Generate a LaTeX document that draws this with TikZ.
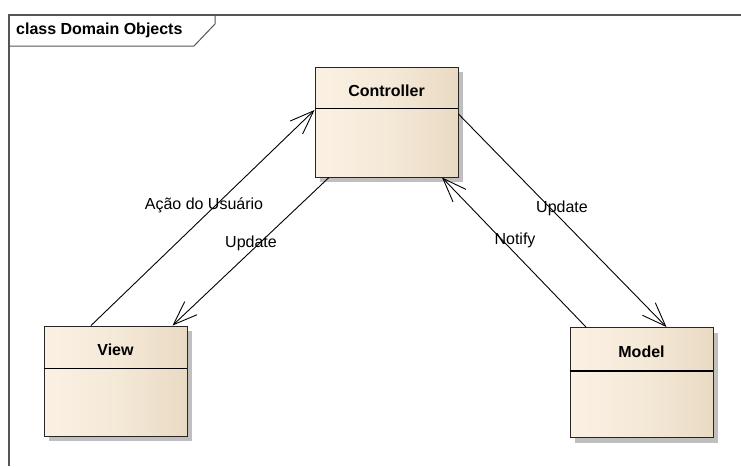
\documentclass[tikz,border=0pt]{standalone}
\usepackage{fontspec}
\setmainfont{Liberation Sans}
\usetikzlibrary{arrows.meta,shadows}

\definecolor{classleft}{RGB}{251,241,227}
\definecolor{classright}{RGB}{233,218,195}
\definecolor{framegray}{RGB}{85,85,85}

\tikzset{
  classbox/.style={draw=black!85, line width=0.9pt,
    minimum width=143pt, minimum height=110pt, inner sep=0pt,
    left color=classleft, right color=classright,
    middle color=classleft!65!classright,
    drop shadow={shadow xshift=5pt, shadow yshift=-5pt, fill=black!25, opacity=1}},
  classname/.style={font=\fontsize{16}{18}\selectfont\bfseries, inner sep=0pt},
  msg/.style={line width=0.9pt, -{Straight Barb[length=24pt,width=18pt]}},
  msglabel/.style={font=\fontsize{16}{18}\selectfont, inner sep=0pt}
}

\begin{document}
\begin{tikzpicture}[x=1pt,y=-1pt]
  \useasboundingbox (0,0) rectangle (741,466);

  % diagram frame and its name tab
  \draw[framegray, line width=1.2pt] (741,15) -- (9,15) -- (9,466);
  \draw[framegray, line width=1pt] (9,15) -- (215,15) -- (215,24) -- (194,46) -- (9,46);
  \node[classname, anchor=west] (frametitle) at (16,30.5) {class Domain Objects};

  % classes
  \node[classbox] (ctrl) at (386.5,122) {};
  \node[classbox] (view) at (115.5,381) {};
  \node[classbox] (model) at (641.5,382.5) {};

  \node[classname] (ctrltitle) at ([yshift=-24pt]ctrl.north) {Controller};
  \node[classname] (viewtitle) at ([yshift=-24pt]view.north) {View};
  \node[classname] (modeltitle) at ([yshift=-25pt]model.north) {Model};

  \draw[line width=1.4pt] ([yshift=-42pt]ctrl.north west) -- ([yshift=-42pt]ctrl.north east);
  \draw[line width=1.4pt] ([yshift=-43pt]view.north west) -- ([yshift=-43pt]view.north east);
  \draw[line width=1.4pt] ([yshift=-44pt]model.north west) -- ([yshift=-44pt]model.north east);

  % associations
  \draw[msg] ([xshift=-24.5pt]view.north) -- ([yshift=12pt]ctrl.west);
  \draw[msg] ([xshift=-57.5pt]ctrl.south) -- ([xshift=57pt]view.north);
  \draw[msg] ([xshift=-55.5pt]model.north) -- ([xshift=55.5pt]ctrl.south);
  \draw[msg] ([yshift=8pt]ctrl.east) -- ([xshift=25pt]model.north);

  \node[msglabel] (acao) at (204,205) {Ação do Usuário};
  \node[msglabel] (updview) at (251,243) {Update};
  \node[msglabel] (notify) at (515,240) {Notify};
  \node[msglabel] (updmodel) at (562,208) {Update};
\end{tikzpicture}
\end{document}
